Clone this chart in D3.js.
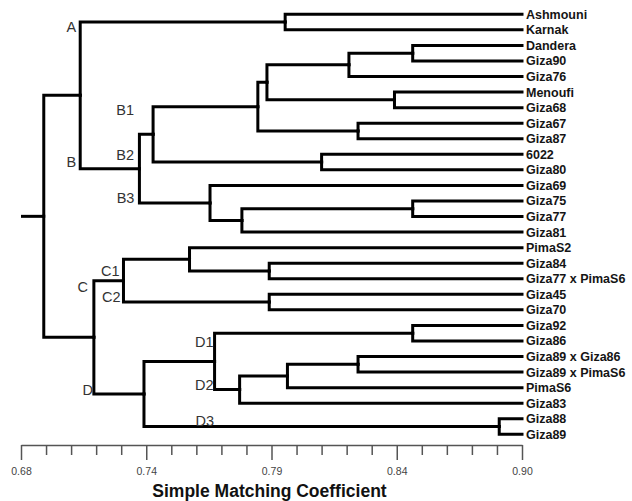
<!DOCTYPE html>
<html>
<head>
<meta charset="utf-8">
<script src="https://cdn.jsdelivr.net/npm/d3@7"></script>
<style>
  body { margin: 0; background: #fff; }
  svg { display: block; font-family: Arial, "Liberation Sans", sans-serif; }
</style>
</head>
<body>
<svg id="chart" width="632" height="501"></svg>
<script>
// leaves, top to bottom
const leaves = ["Ashmouni", "Karnak", "Dandera", "Giza90", "Giza76", "Menoufi", "Giza68",
  "Giza67", "Giza87", "6022", "Giza80", "Giza69", "Giza75", "Giza77", "Giza81",
  "PimaS2", "Giza84", "Giza77 x PimaS6", "Giza45", "Giza70", "Giza92", "Giza86",
  "Giza89 x Giza86", "Giza89 x PimaS6", "PimaS6", "Giza83", "Giza88", "Giza89"];

// merges: [id, left, right, similarity]
const merges = [
  ["m1", "Dandera", "Giza90", 0.852],
  ["m2", "m1", "Giza76", 0.824],
  ["m3", "Menoufi", "Giza68", 0.844],
  ["m4", "m2", "m3", 0.788],
  ["m5", "Giza67", "Giza87", 0.828],
  ["m6", "m4", "m5", 0.784],
  ["m7", "6022", "Giza80", 0.812],
  ["m8", "m6", "m7", 0.738],
  ["m9", "Giza75", "Giza77", 0.852],
  ["m10", "m9", "Giza81", 0.777],
  ["m11", "Giza69", "m10", 0.763],
  ["m12", "m8", "m11", 0.732],
  ["m13", "Ashmouni", "Karnak", 0.796],
  ["m14", "m13", "m12", 0.706],
  ["m15", "Giza84", "Giza77 x PimaS6", 0.789],
  ["m16", "PimaS2", "m15", 0.754],
  ["m17", "Giza45", "Giza70", 0.789],
  ["m18", "m16", "m17", 0.725],
  ["m19", "Giza92", "Giza86", 0.852],
  ["m20", "Giza89 x Giza86", "Giza89 x PimaS6", 0.828],
  ["m21", "m20", "PimaS6", 0.797],
  ["m22", "m21", "Giza83", 0.776],
  ["m23", "m19", "m22", 0.765],
  ["m24", "Giza88", "Giza89", 0.890],
  ["m25", "m23", "m24", 0.734],
  ["m26", "m18", "m25", 0.712],
  ["m27", "m14", "m26", 0.690]
];

// cluster names and the merge they mark
const clusterNames = ["A", "B", "B1", "B2", "B3", "C", "C1", "C2", "D", "D1", "D2", "D3"];
const clusterNodes = ["m13", "m12", "m6", "m7", "m11", "m18", "m16", "m17", "m25", "m19", "m22", "m24"];

const axisMin = 0.68, axisMax = 0.90, tickStep = 0.011;
const tickLabels = ["0.68", "0.74", "0.79", "0.84", "0.90"];
const axisTitle = "Simple Matching Coefficient";

// label placement, pixels from (parent x, cluster y)
const labelOffsets = {
  A: [-4, 5], B: [-4, -7], B1: [-19, 3], B2: [-19, -7], B3: [-5, -5.5],
  C: [-6, 6], C1: [-4, 11], C2: [-3, -5], D: [-1, -4],
  D1: [-1, 9], D2: [-1, -5], D3: [70, -6]
};

let svg = d3.select("#chart");

let x = d3.scaleLinear().domain([axisMin, axisMax]).range([21, 522]);
let yLeaf = d3.scalePoint().domain(leaves).range([14.3, 434.3]);

//build node table
let nodes = {};
for (let l of leaves) nodes[l] = {id: l, h: axisMax, y: yLeaf(l)};
for (let m of merges) {
  let a = nodes[m[1]], b = nodes[m[2]];
  nodes[m[0]] = {id: m[0], h: m[3], y: (a.y + b.y) / 2, kids: [a, b]};
  a.parent = nodes[m[0]];
  b.parent = nodes[m[0]];
}
let root = nodes[merges[merges.length - 1][0]];

//elbow links
let links = [];
for (let m of merges) {
  let p = nodes[m[0]];
  for (let c of p.kids) links.push({p: p, c: c});
}

let g = svg.append("g");

g.selectAll(".link")
  .data(links)
  .enter().append("path")
    .attr("class", "link")
    .attr("d", d => `M${x(d.p.h)},${d.p.y}V${d.c.y}H${x(d.c.h)}`)
    .attr("fill", "none")
    .attr("stroke", "#000")
    .attr("stroke-width", 3)
    .attr("stroke-linecap", "square");

// root stub
g.append("path")
  .attr("d", `M${x(axisMin)},${root.y}H${x(root.h)}`)
  .attr("stroke", "#000")
  .attr("stroke-width", 3);

//leaf names
g.selectAll(".leaf")
  .data(leaves)
  .enter().append("text")
    .attr("class", "leaf")
    .attr("x", x(axisMax) + 4)
    .attr("y", d => yLeaf(d))
    .attr("dy", "0.36em")
    .attr("font-size", "12.5px")
    .attr("font-weight", "bold")
    .attr("fill", "#151515")
    .text(d => d);

//cluster labels
g.selectAll(".clab")
  .data(clusterNames)
  .enter().append("text")
    .attr("class", "clab")
    .attr("x", (d, i) => x(nodes[clusterNodes[i]].parent.h) + labelOffsets[d][0])
    .attr("y", (d, i) => nodes[clusterNodes[i]].y + labelOffsets[d][1])
    .attr("dy", "0.36em")
    .attr("text-anchor", "end")
    .attr("font-size", "14.5px")
    .attr("fill", "#333")
    .text(d => d);

//axis
let allTicks = d3.range(0, 21).map(i => axisMin + i * tickStep);
let xAxis = d3.axisBottom(x)
  .tickValues(allTicks)
  .tickSize(10)
  .tickSizeOuter(0)
  .tickFormat((d, i) => i % 5 == 0 ? tickLabels[i / 5] : "");

let ax = svg.append("g")
  .attr("transform", "translate(0,445)")
  .call(xAxis);

ax.select(".domain").attr("stroke", "#555").attr("stroke-width", 1.5);
ax.selectAll(".tick line")
  .attr("stroke", "#555")
  .attr("stroke-width", 1.5)
  .attr("y2", (d, i) => i % 5 == 0 ? 15 : 10);
ax.selectAll(".tick text")
  .attr("y", 23)
  .attr("font-size", "10.5px")
  .attr("font-family", "Arial, 'Liberation Sans', sans-serif")
  .attr("fill", "#444");

svg.append("text")
  .attr("x", (x(axisMin) + x(axisMax)) / 2 - 2)
  .attr("y", 497)
  .attr("text-anchor", "middle")
  .attr("font-size", "17.5px")
  .attr("font-weight", "bold")
  .attr("fill", "#111")
  .text(axisTitle);
</script>
</body>
</html>
